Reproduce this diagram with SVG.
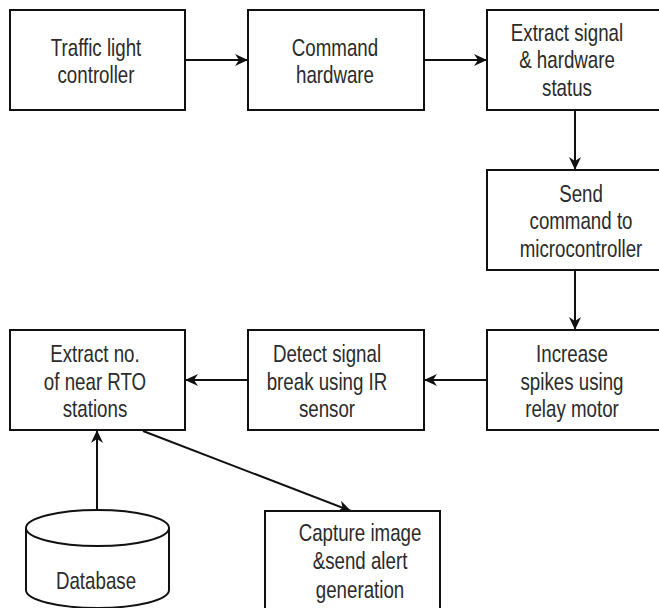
<svg xmlns="http://www.w3.org/2000/svg" width="659" height="608" viewBox="0 0 659 608">
<style>
.box{fill:#fff;stroke:#111;stroke-width:2}
.edge{fill:none;stroke:#111;stroke-width:2}
text{font-family:"Liberation Sans",Arial,sans-serif;font-size:24px;fill:#2b2b2b;text-anchor:middle}
</style>
<defs>
<marker id="ah" markerUnits="userSpaceOnUse" markerWidth="14" markerHeight="12" viewBox="0 0 14 12" refX="13" refY="6" orient="auto">
<path d="M0,0 L13,6 L0,12 L4,6 Z" fill="#111"/>
</marker>
</defs>
<rect width="659" height="608" fill="#fff"/>
<g id="connectors">
<line class="edge" x1="185" y1="60" x2="248" y2="60" marker-end="url(#ah)"/>
<line class="edge" x1="424" y1="60" x2="487" y2="60" marker-end="url(#ah)"/>
<line class="edge" x1="575" y1="110" x2="575" y2="170" marker-end="url(#ah)"/>
<line class="edge" x1="575" y1="270" x2="575" y2="330" marker-end="url(#ah)"/>
<line class="edge" x1="487" y1="380" x2="424" y2="380" marker-end="url(#ah)"/>
<line class="edge" x1="248" y1="380" x2="185" y2="380" marker-end="url(#ah)"/>
<line class="edge" x1="97" y1="510" x2="97" y2="430" marker-end="url(#ah)"/>
<line class="edge" x1="143" y1="431" x2="351" y2="511" marker-end="url(#ah)"/>
</g>
<g id="n1">
<rect class="box" x="10" y="10" width="175" height="100"/>
<g transform="translate(96,0) scale(0.78,1)"><text x="0" y="56">Traffic light</text><text x="0" y="83">controller</text></g>
</g>
<g id="n2">
<rect class="box" x="248" y="10" width="176" height="100"/>
<g transform="translate(335,0) scale(0.78,1)"><text x="0" y="56">Command</text><text x="0" y="83">hardware</text></g>
</g>
<g id="n3">
<rect class="box" x="487" y="10" width="176" height="100"/>
<g transform="translate(567,0) scale(0.78,1)"><text x="0" y="41">Extract signal</text><text x="0" y="68">&amp; hardware</text><text x="0" y="96">status</text></g>
</g>
<g id="n4">
<rect class="box" x="487" y="170" width="176" height="100"/>
<g transform="translate(581,0) scale(0.78,1)"><text x="0" y="202">Send</text><text x="0" y="229">command to</text><text x="0" y="257">microcontroller</text></g>
</g>
<g id="n5">
<rect class="box" x="487" y="330" width="176" height="100"/>
<g transform="translate(572,0) scale(0.78,1)"><text x="0" y="362">Increase</text><text x="0" y="390">spikes using</text><text x="0" y="417">relay motor</text></g>
</g>
<g id="n6">
<rect class="box" x="248" y="330" width="176" height="100"/>
<g transform="translate(327,0) scale(0.78,1)"><text x="0" y="362">Detect signal</text><text x="0" y="390">break using IR</text><text x="0" y="417">sensor</text></g>
</g>
<g id="n7">
<rect class="box" x="10" y="330" width="175" height="100"/>
<g transform="translate(95,0) scale(0.78,1)"><text x="0" y="362">Extract no.</text><text x="0" y="390">of near RTO</text><text x="0" y="417">stations</text></g>
</g>
<g id="n8">
<path class="box" d="M26,528 A71.5,18 0 0,1 169,528 L169,590 A71.5,18 0 0,1 26,590 Z"/>
<path class="edge" d="M26,528 A71.5,18 0 0,0 169,528"/>
<g transform="translate(96,0) scale(0.78,1)"><text x="0" y="589">Database</text></g>
</g>
<g id="n9">
<rect class="box" x="265" y="511" width="175" height="110"/>
<g transform="translate(360,0) scale(0.78,1)"><text x="0" y="541">Capture image</text><text x="0" y="569">&amp;send alert</text><text x="0" y="598">generation</text></g>
</g>
</svg>
